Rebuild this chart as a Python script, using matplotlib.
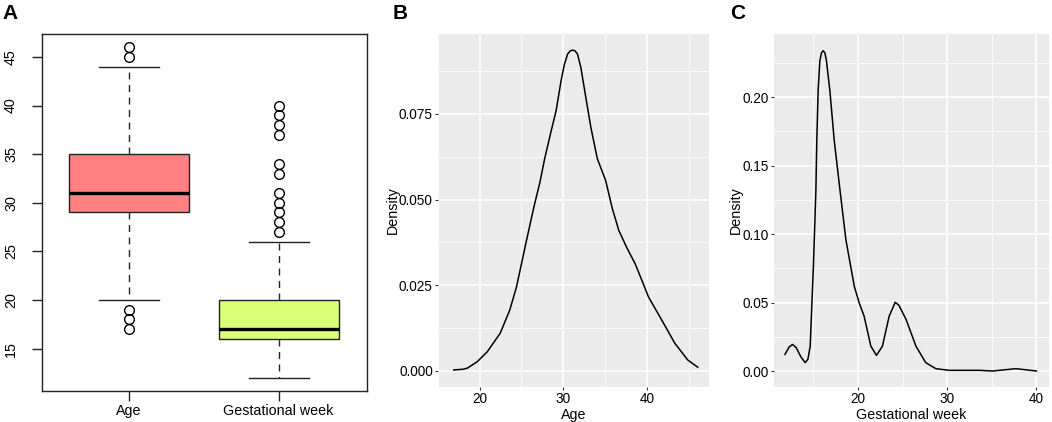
import matplotlib
matplotlib.use("Agg")
import matplotlib.pyplot as plt

plt.rcParams["font.family"] = ["Liberation Sans", "DejaVu Sans"]

# Panel A: box plot summaries
box_names = ["Age", "Gestational week"]
box_low = [20, 12]
box_q1 = [29, 16]
box_med = [31, 17]
box_q3 = [35, 20]
box_high = [44, 26]
box_fliers = [[17, 18, 19, 45, 46],
              [27, 28, 29, 30, 31, 33, 34, 37, 38, 39, 40]]
box_colors = ["#FF8080", "#DBFF76"]

# Panel B: density of age
age_x = [16.9, 18.0, 18.5, 19.7, 20.9, 22.45, 23.6, 24.4, 25.6, 26.5, 27.2,
         27.77, 28.56, 29.15, 29.74, 30.14, 30.53, 30.85, 31.12, 31.4, 31.7,
         32.1, 32.7, 33.3, 34.08, 35.07, 35.86, 36.65, 37.6, 38.6, 39.4,
         40.2, 41.8, 43.35, 44.9, 46.1]
age_y = [0.0003, 0.0005, 0.0008, 0.0027, 0.0056, 0.011, 0.0178, 0.0245,
         0.0381, 0.048, 0.055, 0.0619, 0.0701, 0.076, 0.0847, 0.0895, 0.0925,
         0.0934, 0.0936, 0.0934, 0.0925, 0.0886, 0.0798, 0.0711, 0.0619,
         0.0556, 0.0475, 0.041, 0.036, 0.0313, 0.0265, 0.0216, 0.0148, 0.0081,
         0.0032, 0.0011]

# Panel C: density of gestational week
gw_x = [11.83, 12.3, 12.68, 13.1, 13.6, 14.1, 14.4, 14.66, 15.03, 15.3, 15.4,
        15.55, 15.74, 15.93, 16.11, 16.3, 16.48, 16.86, 17.35, 17.98, 18.66,
        19.6, 20.15, 20.7, 21.45, 22.08, 22.75, 23.5, 24.18, 24.6, 25.4, 26.5,
        27.6, 28.73, 30.2, 33.6, 35.1, 37.7, 38.9, 40.0]
gw_y = [0.0121, 0.0175, 0.0194, 0.017, 0.0105, 0.0061, 0.0085, 0.0182,
        0.0788, 0.133, 0.1685, 0.205, 0.2267, 0.2325, 0.234, 0.2325, 0.2267,
        0.205, 0.1685, 0.133, 0.0958, 0.0618, 0.0497, 0.04, 0.0182, 0.0114,
        0.0182, 0.04, 0.0502, 0.048, 0.0376, 0.0182, 0.0061, 0.0017, 0.0005,
        0.0005, 0.0, 0.0017, 0.0008, 0.0]

fig = plt.figure(figsize=(10.52, 4.22), dpi=100)

# ---- A ----
axA = fig.add_axes([0.0399, 0.0735, 0.309, 0.8459])
stats = []
for i in range(len(box_names)):
    stats.append({"label": box_names[i], "whislo": box_low[i], "q1": box_q1[i],
                  "med": box_med[i], "q3": box_q3[i], "whishi": box_high[i],
                  "fliers": box_fliers[i]})
bp = axA.bxp(stats, positions=[1, 2], widths=0.8, patch_artist=True,
             showfliers=True,
             boxprops=dict(edgecolor="#222222", linewidth=1.0),
             medianprops=dict(color="black", linewidth=2.4),
             whiskerprops=dict(color="#222222", linewidth=1.0, linestyle=(0, (5, 4))),
             capprops=dict(color="#222222", linewidth=1.0),
             capwidths=0.4,
             flierprops=dict(marker="o", markerfacecolor="none",
                             markeredgecolor="black", markersize=7, markeredgewidth=1.0))
for patch, c in zip(bp["boxes"], box_colors):
    patch.set_facecolor(c)
axA.set_xlim(0.42, 2.59)
axA.set_ylim(10.64, 47.36)
axA.set_yticks([15, 20, 25, 30, 35, 40, 45])
for lbl in axA.get_yticklabels():
    lbl.set_rotation(90)
    lbl.set_va("center")
axA.tick_params(axis="both", labelsize=10.3, length=7.2, width=1.0,
                colors="#222222", labelcolor="black")
axA.tick_params(axis="x", pad=2)
axA.tick_params(axis="y", pad=10)
for s in axA.spines.values():
    s.set_linewidth(1.0)
    s.set_color("#222222")


def gg_style(ax, xticks, yticks, yfmt, xminor, yminor):
    ax.set_facecolor("#EBEBEB")
    for s in ax.spines.values():
        s.set_visible(False)
    ax.set_xticks(xticks)
    ax.set_yticks(yticks)
    ax.set_yticklabels([yfmt.format(v) for v in yticks])
    ax.set_xticks(xminor, minor=True)
    ax.set_yticks(yminor, minor=True)
    ax.grid(which="major", color="white", linewidth=1.1)
    ax.grid(which="minor", color="white", linewidth=0.55)
    ax.set_axisbelow(True)
    ax.tick_params(which="major", labelsize=9.8, length=2.5, width=0.8,
                   colors="#333333", labelcolor="black", pad=1.2)
    ax.tick_params(which="minor", length=0)


# ---- B ----
axB = fig.add_axes([0.4163, 0.0829, 0.2577, 0.8365])
axB.plot(age_x, age_y, color="black", linewidth=1.1)
axB.set_xlim(15.55, 47.45)
axB.set_ylim(-0.00468, 0.0983)
gg_style(axB, [20, 30, 40], [0.0, 0.025, 0.05, 0.075], "{:.3f}",
         [15, 25, 35, 45], [0.0125, 0.0375, 0.0625, 0.0875])
axB.set_xlabel("Age", fontsize=10.3, labelpad=1)
axB.set_ylabel("Density", fontsize=10.3, labelpad=-0.5)

# ---- C ----
axC = fig.add_axes([0.7357, 0.0829, 0.2614, 0.8365])
axC.plot(gw_x, gw_y, color="black", linewidth=1.1)
axC.set_xlim(10.6, 41.4)
axC.set_ylim(-0.0117, 0.2462)
gg_style(axC, [20, 30, 40], [0.0, 0.05, 0.10, 0.15, 0.20], "{:.2f}",
         [15, 25, 35], [0.025, 0.075, 0.125, 0.175, 0.225])
axC.set_xlabel("Gestational week", fontsize=10.3, labelpad=1)
axC.set_ylabel("Density", fontsize=10.3, labelpad=-0.5)

# panel letters
fig.text(0.002, 0.99, "A", fontsize=15, fontweight="bold", va="top")
fig.text(0.373, 0.99, "B", fontsize=15, fontweight="bold", va="top")
fig.text(0.694, 0.99, "C", fontsize=15, fontweight="bold", va="top")

fig.savefig("out.png", dpi=100)
